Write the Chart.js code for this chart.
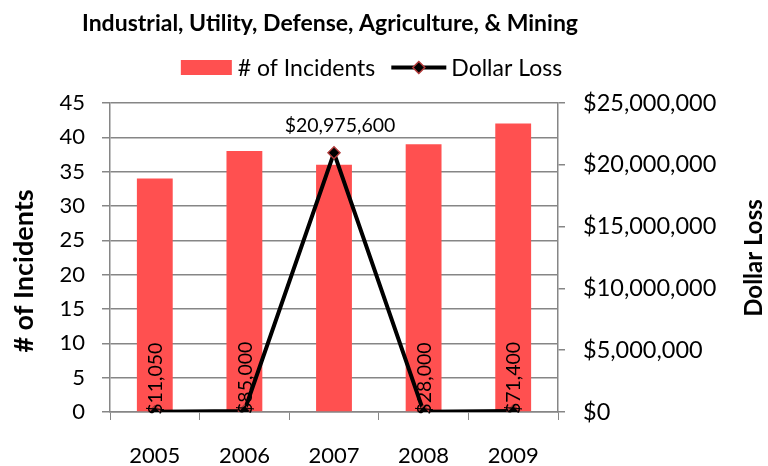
<!DOCTYPE html>
<html>
<head>
<meta charset="utf-8">
<script src="https://cdn.jsdelivr.net/npm/chart.js@4"></script>
<style>
  html, body { margin: 0; padding: 0; background: #ffffff; }
  #wrap { width: 768px; height: 466px; position: relative; }
</style>
</head>
<body>
<div id="wrap"><canvas id="c" width="768" height="466"></canvas></div>
<script>
const chartTitle = 'Industrial, Utility, Defense, Agriculture, & Mining';
const categories = ['2005', '2006', '2007', '2008', '2009'];
const incidents = [34, 38, 36, 39, 42];
const dollarLoss = [11050, 85000, 20975600, 28000, 71400];
const seriesNames = ['# of Incidents', 'Dollar Loss'];
const leftAxisTitle = '# of Incidents';
const rightAxisTitle = 'Dollar Loss';
const leftMax = 45, leftStep = 5;
const rightMax = 25000000, rightStep = 5000000;

const FONT = 'Lato, "Open Sans", "Liberation Sans", sans-serif';
const BAR_COLOR = '#FF5050';
const GRID = '#868686';
const MARK_BORDER = '#B03A3A';

function money(v) { return '$' + Math.round(v).toLocaleString('en-US'); }

const decorPlugin = {
  id: 'decor',
  afterDraw(chart) {
    const ctx = chart.ctx;
    ctx.save();
    // title
    ctx.fillStyle = '#000';
    ctx.font = 'bold 23px ' + FONT;
    ctx.textAlign = 'center';
    ctx.textBaseline = 'middle';
    ctx.fillText(chartTitle, 330, 24);

    // axis titles (both read bottom-to-top)
    ctx.font = 'bold 27px ' + FONT;
    ctx.save();
    ctx.translate(24, 271);
    ctx.rotate(-Math.PI / 2);
    ctx.fillText(leftAxisTitle, 0, 0);
    ctx.restore();
    ctx.font = 'bold 24px ' + FONT;
    ctx.save();
    ctx.translate(754, 258);
    ctx.rotate(-Math.PI / 2);
    ctx.fillText(rightAxisTitle, 0, 0);
    ctx.restore();

    // legend
    ctx.font = '23px ' + FONT;
    const boxW = 51, boxH = 15, gap1 = 6, gap2 = 16, lineW = 55, gap3 = 5;
    const w1 = ctx.measureText(seriesNames[0]).width;
    const w2 = ctx.measureText(seriesNames[1]).width;
    const total = boxW + gap1 + w1 + gap2 + lineW + gap3 + w2;
    let x = 371.5 - total / 2;
    const ly = 67.5;
    ctx.fillStyle = BAR_COLOR;
    ctx.fillRect(x, ly - boxH / 2, boxW, boxH);
    x += boxW + gap1;
    ctx.fillStyle = '#000';
    ctx.textAlign = 'left';
    ctx.fillText(seriesNames[0], x, ly + 1);
    x += w1 + gap2;
    ctx.strokeStyle = '#000';
    ctx.lineWidth = 4;
    ctx.beginPath();
    ctx.moveTo(x, ly);
    ctx.lineTo(x + lineW, ly);
    ctx.stroke();
    const cx = x + lineW / 2;
    ctx.beginPath();
    ctx.moveTo(cx, ly - 6);
    ctx.lineTo(cx + 6, ly);
    ctx.lineTo(cx, ly + 6);
    ctx.lineTo(cx - 6, ly);
    ctx.closePath();
    ctx.fillStyle = '#000';
    ctx.fill();
    ctx.lineWidth = 1.5;
    ctx.strokeStyle = MARK_BORDER;
    ctx.stroke();
    x += lineW + gap3;
    ctx.fillStyle = '#000';
    ctx.fillText(seriesNames[1], x, ly + 1);

    // data labels for dollar loss
    const meta = chart.getDatasetMeta(1);
    ctx.font = '19.5px ' + FONT;
    meta.data.forEach((pt, i) => {
      const v = dollarLoss[i];
      const txt = money(v);
      if (v > 1000000) {
        ctx.textAlign = 'center';
        ctx.textBaseline = 'bottom';
        ctx.fillText(txt, pt.x + 6, pt.y - 17);
      } else {
        ctx.save();
        ctx.translate(pt.x + 1, pt.y + 3);
        ctx.rotate(-Math.PI / 2);
        ctx.textAlign = 'left';
        ctx.textBaseline = 'middle';
        ctx.fillText(txt, 0, 0);
        ctx.restore();
      }
    });
    ctx.restore();
  }
};

new Chart(document.getElementById('c'), {
  data: {
    labels: categories,
    datasets: [
      {
        type: 'bar',
        label: seriesNames[0],
        data: incidents,
        backgroundColor: BAR_COLOR,
        barPercentage: 0.4,
        categoryPercentage: 1.0,
        yAxisID: 'y',
        order: 2
      },
      {
        type: 'line',
        label: seriesNames[1],
        data: dollarLoss,
        borderColor: '#000',
        borderWidth: 4,
        pointStyle: 'rectRot',
        pointRadius: 6,
        pointBackgroundColor: '#000',
        pointBorderColor: MARK_BORDER,
        pointBorderWidth: 1.5,
        tension: 0,
        yAxisID: 'y1',
        order: 1
      }
    ]
  },
  options: {
    responsive: false,
    animation: false,
    devicePixelRatio: 1,
    layout: { padding: { top: 103, left: 0, right: 0, bottom: 0 } },
    plugins: {
      legend: { display: false },
      title: { display: false },
      tooltip: { enabled: false }
    },
    scales: {
      x: {
        offset: true,
        grid: { offset: true, drawOnChartArea: false, drawTicks: true, tickLength: 8, color: GRID, lineWidth: 1 },
        border: { display: true, color: GRID, width: 1.5 },
        ticks: { color: '#000', font: { family: FONT, size: 22 }, padding: 23, maxRotation: 0 },
        afterFit(s) { s.height = 54; }
      },
      y: {
        position: 'left',
        min: 0, max: leftMax,
        grid: { color: GRID, lineWidth: 1.5, tickLength: 8, drawTicks: true },
        border: { display: true, color: GRID, width: 1.5 },
        ticks: { stepSize: leftStep, color: '#000', font: { family: FONT, size: 22 }, padding: 17 },
        afterFit(s) { s.width = 110; }
      },
      y1: {
        position: 'right',
        min: 0, max: rightMax,
        grid: { drawOnChartArea: false, drawTicks: true, tickLength: 7, color: GRID, lineWidth: 1.5 },
        border: { display: true, color: GRID, width: 1.5 },
        ticks: { stepSize: rightStep, color: '#000', font: { family: FONT, size: 23.5 }, padding: 18, callback: v => money(v) },
        afterFit(s) { s.width = 210; }
      }
    }
  },
  plugins: [decorPlugin]
});
</script>
</body>
</html>
